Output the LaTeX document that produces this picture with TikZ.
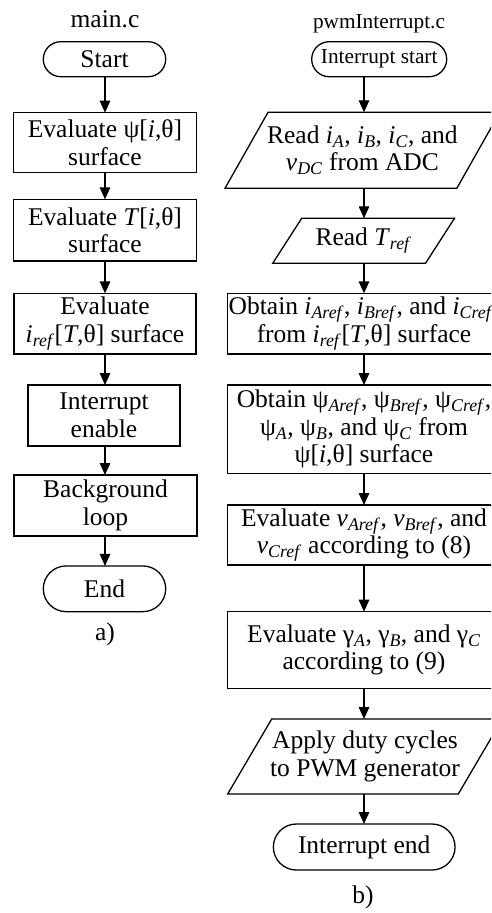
\documentclass[tikz,border=0pt]{standalone}
\usepackage{fontspec}
\setmainfont{Liberation Serif}
\usetikzlibrary{arrows.meta}

% italic symbol and italic subscript
\newcommand\vi[1]{\textit{#1}}
\newcommand\sbi[1]{\textsubscript{\textit{#1}}}

\begin{document}
\begin{tikzpicture}[x=1pt,y=-1pt,
  every node/.style={inner sep=0pt,outer sep=0pt,align=center,
    font=\fontsize{25.5}{27.5}\selectfont},
  procbox/.style={draw,rectangle,line width=1.3pt},
  iobox/.style={rectangle},
  termbox/.style={draw,rectangle,line width=1.3pt},
  smallfont/.style={font=\fontsize{21.3}{23}\selectfont},
  arr/.style={line width=1.3pt,-{Triangle[length=12pt,width=10.5pt]}},
  outline/.style={draw,line width=1.3pt,line join=miter}]
\useasboundingbox (0,0) rectangle (491,913);
\clip (0,0) rectangle (491,913);

% ---------- main.c ----------
\node[anchor=base] (tmain) at (105,27) {main.c};
\node[termbox,minimum width=122.4pt,minimum height=35pt,rounded corners=17.5pt] (s) at (104.5,59.2) {Start};
\node[procbox,minimum width=183.4pt,minimum height=59.6pt] (m1) at (105,142.5) {Evaluate ψ[\vi{i},θ]\\surface};
\node[procbox,minimum width=183.4pt,minimum height=61.7pt] (m2) at (105,230.2) {Evaluate \vi{T}[\vi{i},θ]\\surface};
\node[procbox,minimum width=182pt,minimum height=60.7pt] (m3) at (105,323.7) {Evaluate\\\vi{i}\sbi{ref}[\vi{T},θ] surface};
\node[procbox,minimum width=152pt,minimum height=61pt] (m4) at (104,415.5) {Interrupt\\enable};
\node[procbox,minimum width=183pt,minimum height=61pt] (m5) at (105.5,505.5) {Background\\loop};
\node[termbox,minimum width=122.4pt,minimum height=45.7pt,rounded corners=22.8pt] (e) at (104.5,588.8) {End};
\node[anchor=base] (la) at (105,640) {a)};

\coordinate (axL) at (105,0);
\foreach \a/\b in {s/m1,m1/m2,m2/m3,m3/m4,m4/m5,m5/e}
  \draw[arr] (\a.south -| axL) -- (\b.north -| axL);

% ---------- pwmInterrupt.c ----------
\node[anchor=base,smallfont] (tpwm) at (379,28) {pwmInterrupt.c};
\node[termbox,smallfont,minimum width=135pt,minimum height=35pt,rounded corners=17.5pt] (is) at (379.2,59.2) {Interrupt start};
\node[iobox,minimum width=231.8pt,minimum height=76pt] (p1) at (362.4,150.3)
  {Read \vi{i}\sbi{A}, \vi{i}\sbi{B}, \vi{i}\sbi{C}, and\\\vi{v}\sbi{DC} from ADC};
\node[iobox,minimum width=152.8pt,minimum height=45pt] (p2) at (363.6,240.8) {Read \vi{T}\sbi{ref}};
\node[procbox,minimum width=272.6pt,minimum height=60.7pt] (r1) at (364,323.7)
  {Obtain \vi{i}\sbi{Aref}, \vi{i}\sbi{Bref}, and \vi{i}\sbi{Cref}\kern6pt\\from \vi{i}\sbi{ref}[\vi{T},θ] surface};
\node[procbox,minimum width=272.6pt,minimum height=88.3pt] (r2) at (364,429.2)
  {Obtain ψ\sbi{Aref}, ψ\sbi{Bref}, ψ\sbi{Cref},\\ψ\sbi{A}, ψ\sbi{B}, and ψ\sbi{C} from\\ψ[\vi{i},θ] surface};
\node[procbox,minimum width=272.6pt,minimum height=60pt] (r3) at (364,535)
  {Evaluate \vi{v}\sbi{Aref}, \vi{v}\sbi{Bref}, and\\\vi{v}\sbi{Cref} according to (8)};
\node[procbox,minimum width=272.6pt,minimum height=76.6pt] (r4) at (364,650)
  {Evaluate γ\sbi{A}, γ\sbi{B}, and γ\sbi{C}\\according to (9)};
\node[iobox,minimum width=230.6pt,minimum height=75pt] (p3) at (365,756.5) {Apply duty cycles\\to PWM generator};
\node[termbox,minimum width=181.7pt,minimum height=46pt,rounded corners=23pt] (ie) at (364.2,847) {Interrupt end};
\node[anchor=base] (lb) at (363,903) {b)};

% slanted outlines of the input/output steps
\foreach \n/\h in {p1/21.5,p2/14.5,p3/22}
  \draw[outline] ([xshift=-\h pt]\n.south west) -- ([xshift=\h pt]\n.north west)
    -- ([xshift=\h pt]\n.north east) -- ([xshift=-\h pt]\n.south east) -- cycle;

\coordinate (axR) at (364,0);
\foreach \a/\b in {is/p1,p1/p2,p2/r1,r1/r2,r2/r3,r3/r4,r4/p3,p3/ie}
  \draw[arr] (\a.south -| axR) -- (\b.north -| axR);
\end{tikzpicture}
\end{document}
